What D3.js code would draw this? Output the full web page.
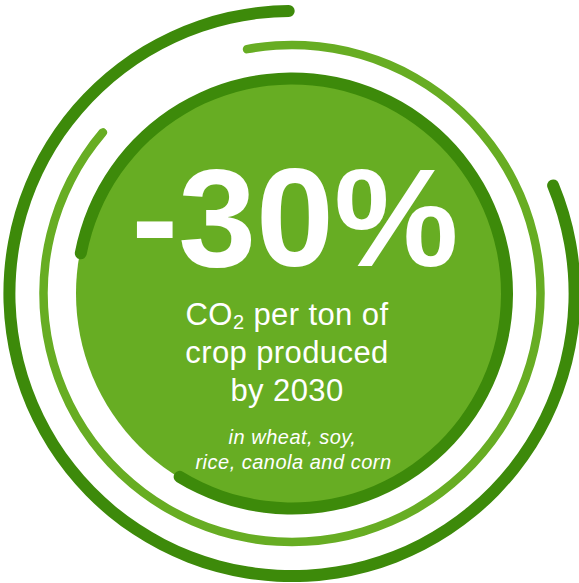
<!DOCTYPE html>
<html>
<head>
<meta charset="utf-8">
<script src="https://cdn.jsdelivr.net/npm/d3@7"></script>
<style>
  html, body { margin: 0; padding: 0; background: #ffffff; }
  svg { display: block; }
  text { font-family: "Liberation Sans", Arial, sans-serif; fill: #ffffff; }
</style>
</head>
<body>
<svg id="chart" width="579" height="583"></svg>
<script>
// ---- data (angles in degrees, clockwise from 12 o'clock) ----
const ringNames  = ["outer", "middle", "inner"];
const ringStart  = [66.3, -11.4, -80.8];
const ringEnd    = [360.55, 311.4, 213.1];
const headline   = ["-30%"];
const bodyLines  = ["CO", "per ton of", "crop produced", "by 2030"];
const noteLines  = ["in wheat, soy,", "rice, canola and corn"];

// ---- layout ----
const W = 579, H = 583;
const cx = 292, cy = 293.5;
const dark = "#3d8a0a", light = "#67ad23";
const ringRadius = { outer: 282.6, middle: 248.5, inner: 215 };
const ringWidth  = { outer: 12, middle: 8.5, inner: 12 };
const ringColor  = { outer: dark, middle: light, inner: dark };
const fillRadius = 216;

const svg = d3.select("#chart");
const g = svg.append("g").attr("transform", `translate(${cx},${cy})`);

const angle = d3.scaleLinear().domain([0, 360]).range([0, 2 * Math.PI]);

// filled disc
g.append("circle").attr("r", fillRadius).attr("fill", light);

// arcs with round ends
const rings = ringNames.map((n, i) => ({ name: n, start: ringStart[i], end: ringEnd[i] }));
g.selectAll("path.ring")
  .data(rings)
  .join("path")
  .attr("class", "ring")
  .attr("fill", d => ringColor[d.name])
  .attr("d", d => {
    const r = ringRadius[d.name], w = ringWidth[d.name];
    return d3.arc()
      .innerRadius(r - w / 2)
      .outerRadius(r + w / 2)
      .cornerRadius(w / 2)
      .startAngle(angle(d.start))
      .endAngle(angle(d.end))();
  });

// headline
svg.append("text")
  .attr("x", 295).attr("y", 266)
  .attr("text-anchor", "middle")
  .style("font-size", "140px").style("font-weight", "bold")
  .text(headline[0]);

// body lines
const body = svg.append("g").style("font-size", "31px").style("letter-spacing", "0.4px");
const l1 = body.append("text").attr("x", 287).attr("y", 325).attr("text-anchor", "middle");
l1.append("tspan").text(bodyLines[0]);
l1.append("tspan").attr("dy", 4).style("font-size", "20px").text("2");
l1.append("tspan").attr("dy", -4).text(" " + bodyLines[1]);
body.append("text").attr("x", 287).attr("y", 363).attr("text-anchor", "middle").text(bodyLines[2]);
body.append("text").attr("x", 287).attr("y", 401).attr("text-anchor", "middle").text(bodyLines[3]);

// italic note
const note = svg.append("g").style("font-size", "20px").style("font-style", "italic").style("letter-spacing", "0.5px");
note.selectAll("text")
  .data(noteLines)
  .join("text")
  .attr("x", (d, i) => i === 0 ? 292.5 : 293.5)
  .attr("y", (d, i) => 444 + i * 25)
  .attr("text-anchor", "middle")
  .text(d => d);
</script>
</body>
</html>
